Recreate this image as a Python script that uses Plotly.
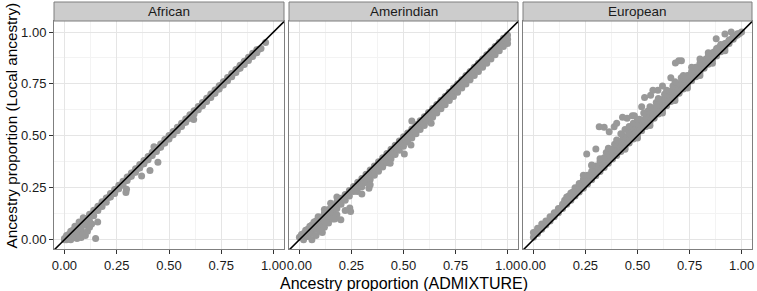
import plotly.graph_objects as go

# ---------------- data ----------------
panels = ["African", "Amerindian", "European"]
tick_vals = [0.0, 0.25, 0.5, 0.75, 1.0]
tick_text = ["0.00", "0.25", "0.50", "0.75", "1.00"]
minor_vals = [0.125, 0.375, 0.625, 0.875]
identity_line = [-0.1, 1.1]  # y = x reference line

african_points = [
    # main band, near the line
    (0.00, 0.005), (0.02, 0.025), (0.04, 0.045), (0.06, 0.062), (0.08, 0.083), (0.10, 0.102),
    (0.12, 0.122), (0.14, 0.142), (0.16, 0.161), (0.18, 0.182), (0.20, 0.201), (0.22, 0.222),
    (0.24, 0.241), (0.26, 0.262), (0.28, 0.281), (0.30, 0.302), (0.32, 0.321), (0.34, 0.341),
    (0.36, 0.362), (0.38, 0.381), (0.40, 0.401), (0.42, 0.421), (0.44, 0.441), (0.46, 0.461),
    (0.48, 0.482), (0.50, 0.501), (0.52, 0.521), (0.54, 0.541), (0.56, 0.561), (0.58, 0.581),
    (0.60, 0.601), (0.62, 0.621), (0.64, 0.641), (0.66, 0.661), (0.68, 0.681), (0.70, 0.701),
    (0.72, 0.721), (0.74, 0.741), (0.76, 0.761), (0.78, 0.781), (0.80, 0.800), (0.82, 0.820),
    (0.84, 0.840), (0.86, 0.859), (0.88, 0.878), (0.90, 0.898), (0.92, 0.915),
    # middle row
    (0.01, 0.004), (0.03, 0.024), (0.05, 0.044), (0.07, 0.063), (0.09, 0.083), (0.11, 0.103),
    (0.13, 0.123), (0.15, 0.143), (0.17, 0.163), (0.19, 0.183), (0.21, 0.203), (0.23, 0.223),
    (0.25, 0.243), (0.27, 0.263), (0.29, 0.283), (0.31, 0.303), (0.33, 0.323), (0.35, 0.343),
    (0.37, 0.363), (0.39, 0.383), (0.41, 0.403), (0.43, 0.423), (0.45, 0.443), (0.47, 0.463),
    (0.49, 0.483), (0.51, 0.503), (0.53, 0.523), (0.55, 0.543), (0.57, 0.563), (0.59, 0.583),
    (0.61, 0.603), (0.63, 0.623), (0.65, 0.643), (0.67, 0.663), (0.69, 0.683), (0.71, 0.703),
    (0.73, 0.723), (0.75, 0.743), (0.77, 0.763), (0.79, 0.783), (0.81, 0.803), (0.83, 0.823),
    (0.85, 0.842), (0.87, 0.861), (0.89, 0.880), (0.91, 0.899), (0.93, 0.917),
    # main band, just below the line
    (0.02, 0.005), (0.04, 0.020), (0.06, 0.035), (0.08, 0.050), (0.10, 0.070), (0.12, 0.090),
    (0.14, 0.115), (0.16, 0.140), (0.18, 0.160), (0.20, 0.180), (0.22, 0.205), (0.24, 0.222),
    (0.26, 0.245), (0.28, 0.262), (0.30, 0.285), (0.32, 0.305), (0.34, 0.325), (0.36, 0.345),
    (0.38, 0.365), (0.40, 0.385), (0.42, 0.405), (0.44, 0.425), (0.46, 0.445), (0.48, 0.465),
    (0.50, 0.485), (0.52, 0.505), (0.54, 0.525), (0.56, 0.545), (0.58, 0.565), (0.60, 0.585),
    (0.62, 0.605), (0.64, 0.625), (0.66, 0.645), (0.68, 0.665), (0.70, 0.685), (0.72, 0.705),
    (0.74, 0.725), (0.76, 0.745), (0.78, 0.765), (0.80, 0.785), (0.82, 0.805), (0.84, 0.825),
    (0.86, 0.843), (0.88, 0.863), (0.90, 0.882), (0.92, 0.900), (0.94, 0.920),
    # low-ancestry cloud
    (0.00, 0.000), (0.01, 0.000), (0.03, 0.000), (0.06, 0.005), (0.08, 0.010), (0.10, 0.020),
    (0.05, 0.010), (0.07, 0.015), (0.09, 0.030), (0.11, 0.040), (0.12, 0.060), (0.13, 0.075),
    (0.01, 0.020), (0.03, 0.040), (0.05, 0.065), (0.07, 0.085), (0.09, 0.105),
    # outliers
    (0.149, 0.005), (0.159, 0.085), (0.447, 0.373), (0.409, 0.333), (0.369, 0.307),
    (0.294, 0.227), (0.297, 0.243), (0.618, 0.579), (0.962, 0.949), (0.428, 0.448),
]

amerindian_points = [
    # near the line
    (0.00, 0.012), (0.02, 0.030), (0.04, 0.050), (0.06, 0.070), (0.08, 0.090), (0.10, 0.108),
    (0.12, 0.127), (0.14, 0.145), (0.16, 0.163), (0.18, 0.182), (0.20, 0.200), (0.22, 0.218),
    (0.24, 0.237), (0.26, 0.256), (0.28, 0.276), (0.30, 0.295), (0.32, 0.315), (0.34, 0.335),
    (0.36, 0.355), (0.38, 0.375), (0.40, 0.395), (0.42, 0.415), (0.44, 0.435), (0.46, 0.455),
    (0.48, 0.475), (0.50, 0.495), (0.52, 0.514), (0.54, 0.533), (0.56, 0.553), (0.58, 0.573),
    (0.60, 0.592), (0.62, 0.612), (0.64, 0.632), (0.66, 0.651), (0.68, 0.671), (0.70, 0.690),
    (0.72, 0.710), (0.74, 0.730), (0.76, 0.750), (0.78, 0.770), (0.80, 0.790), (0.82, 0.810),
    (0.84, 0.830), (0.86, 0.850), (0.88, 0.870), (0.90, 0.890), (0.92, 0.910), (0.94, 0.930),
    (0.96, 0.950), (0.98, 0.970), (1.00, 0.985),
    # middle row
    (0.01, 0.010), (0.03, 0.028), (0.05, 0.045), (0.07, 0.062), (0.09, 0.080), (0.11, 0.097),
    (0.13, 0.115), (0.15, 0.135), (0.17, 0.155), (0.19, 0.175), (0.21, 0.195), (0.23, 0.215),
    (0.25, 0.235), (0.27, 0.255), (0.29, 0.275), (0.31, 0.295), (0.33, 0.315), (0.35, 0.335),
    (0.37, 0.355), (0.39, 0.375), (0.41, 0.395), (0.43, 0.415), (0.45, 0.435), (0.47, 0.455),
    (0.49, 0.475), (0.51, 0.495), (0.53, 0.515), (0.55, 0.535), (0.57, 0.555), (0.59, 0.575),
    (0.61, 0.594), (0.63, 0.614), (0.65, 0.634), (0.67, 0.654), (0.69, 0.674), (0.71, 0.694),
    (0.73, 0.714), (0.75, 0.734), (0.77, 0.754), (0.79, 0.774), (0.81, 0.794), (0.83, 0.814),
    (0.85, 0.834), (0.87, 0.854), (0.89, 0.874), (0.91, 0.894), (0.93, 0.914), (0.95, 0.934),
    (0.97, 0.954), (0.99, 0.972),
    # second row below
    (0.02, 0.000), (0.04, 0.015), (0.06, 0.030), (0.08, 0.050), (0.10, 0.070), (0.12, 0.090),
    (0.14, 0.110), (0.16, 0.130), (0.18, 0.150), (0.20, 0.170), (0.22, 0.190), (0.24, 0.210),
    (0.26, 0.232), (0.28, 0.250), (0.30, 0.272), (0.32, 0.292), (0.34, 0.312), (0.36, 0.332),
    (0.38, 0.352), (0.40, 0.372), (0.42, 0.392), (0.44, 0.412), (0.46, 0.432), (0.48, 0.452),
    (0.50, 0.472), (0.52, 0.492), (0.54, 0.512), (0.56, 0.532), (0.58, 0.552), (0.60, 0.572),
    (0.62, 0.592), (0.64, 0.610), (0.66, 0.630), (0.68, 0.650), (0.70, 0.670), (0.72, 0.690),
    (0.74, 0.710), (0.76, 0.730), (0.78, 0.750), (0.80, 0.770), (0.82, 0.790), (0.84, 0.810),
    (0.86, 0.830), (0.88, 0.850), (0.90, 0.870), (0.92, 0.890), (0.94, 0.910), (0.96, 0.930),
    (0.98, 0.950), (1.00, 0.965),
    # between second and third rows
    (0.31, 0.275), (0.33, 0.295), (0.35, 0.315), (0.37, 0.335), (0.39, 0.355), (0.41, 0.375),
    (0.43, 0.395), (0.45, 0.415), (0.47, 0.435), (0.49, 0.455), (0.51, 0.475), (0.53, 0.495),
    (0.55, 0.515), (0.57, 0.535), (0.59, 0.555), (0.61, 0.575), (0.63, 0.595), (0.65, 0.615),
    (0.67, 0.635), (0.69, 0.655), (0.71, 0.675), (0.73, 0.695), (0.75, 0.715), (0.77, 0.735),
    (0.79, 0.755), (0.81, 0.775), (0.83, 0.795), (0.85, 0.815), (0.87, 0.835), (0.89, 0.855),
    (0.91, 0.875), (0.93, 0.895), (0.95, 0.915), (0.97, 0.935), (0.99, 0.955),
    # third row below
    (0.30, 0.255), (0.32, 0.275), (0.34, 0.290), (0.36, 0.310), (0.38, 0.330), (0.40, 0.350),
    (0.42, 0.370), (0.44, 0.390), (0.46, 0.410), (0.48, 0.430), (0.50, 0.450), (0.52, 0.470),
    (0.54, 0.490), (0.56, 0.510), (0.58, 0.530), (0.60, 0.550), (0.62, 0.570), (0.64, 0.590),
    (0.66, 0.610), (0.68, 0.630), (0.70, 0.650), (0.72, 0.670), (0.74, 0.690), (0.76, 0.710),
    (0.78, 0.730), (0.80, 0.750), (0.82, 0.770), (0.84, 0.790), (0.86, 0.810), (0.88, 0.830),
    (0.90, 0.850), (0.92, 0.870), (0.94, 0.890), (0.96, 0.910), (0.98, 0.930), (1.00, 0.945),
    # low-ancestry cloud
    (0.06, 0.000), (0.08, 0.020), (0.10, 0.040), (0.12, 0.060), (0.14, 0.080), (0.16, 0.100),
    (0.18, 0.120), (0.01, 0.025), (0.03, 0.045), (0.05, 0.065), (0.07, 0.085), (0.09, 0.110),
    (0.12, 0.145), (0.15, 0.175), (0.18, 0.205),
    # outliers
    (0.110, 0.035), (0.199, 0.096), (0.242, 0.152), (0.246, 0.136), (0.278, 0.232),
    (0.334, 0.248), (0.340, 0.264), (0.436, 0.368), (0.504, 0.413), (0.536, 0.456),
    (0.633, 0.560), (0.540, 0.572), (0.220, 0.140), (0.300, 0.220), (0.170, 0.100),
]

european_points = [
    # near the line
    (0.00, 0.012), (0.02, 0.030), (0.04, 0.050), (0.06, 0.070), (0.08, 0.090), (0.10, 0.110),
    (0.12, 0.130), (0.14, 0.150), (0.16, 0.170), (0.18, 0.190), (0.20, 0.210), (0.22, 0.230),
    (0.24, 0.248), (0.26, 0.268), (0.28, 0.288), (0.30, 0.308), (0.32, 0.328), (0.34, 0.348),
    (0.36, 0.368), (0.38, 0.388), (0.40, 0.405), (0.42, 0.425), (0.44, 0.445), (0.46, 0.465),
    (0.48, 0.485), (0.50, 0.505), (0.52, 0.525), (0.54, 0.545), (0.56, 0.565), (0.58, 0.585),
    (0.60, 0.605), (0.62, 0.625), (0.64, 0.645), (0.66, 0.665), (0.68, 0.685), (0.70, 0.705),
    (0.72, 0.725), (0.74, 0.745), (0.76, 0.765), (0.78, 0.785), (0.80, 0.805), (0.82, 0.825),
    (0.84, 0.845), (0.86, 0.865), (0.88, 0.885), (0.90, 0.905), (0.92, 0.925), (0.94, 0.945),
    (0.96, 0.965), (0.98, 0.985), (1.00, 1.000),
    # middle row
    (0.01, 0.030), (0.03, 0.050), (0.05, 0.070), (0.07, 0.090), (0.09, 0.110), (0.11, 0.130),
    (0.13, 0.150), (0.15, 0.170), (0.17, 0.190), (0.19, 0.210), (0.21, 0.230), (0.23, 0.250),
    (0.25, 0.270), (0.27, 0.290), (0.29, 0.310), (0.31, 0.330), (0.33, 0.350), (0.35, 0.370),
    (0.37, 0.390), (0.39, 0.410), (0.41, 0.430), (0.43, 0.450), (0.45, 0.470), (0.47, 0.490),
    (0.49, 0.510), (0.51, 0.530), (0.53, 0.550), (0.55, 0.570), (0.57, 0.590), (0.59, 0.610),
    (0.61, 0.630), (0.63, 0.650), (0.65, 0.670), (0.67, 0.690), (0.69, 0.710), (0.71, 0.730),
    (0.73, 0.750), (0.75, 0.770), (0.77, 0.790), (0.79, 0.810), (0.81, 0.830), (0.83, 0.850),
    (0.85, 0.870), (0.87, 0.890), (0.89, 0.910), (0.91, 0.930), (0.93, 0.948), (0.95, 0.965),
    (0.97, 0.980), (0.99, 0.993),
    # second row above
    (0.00, 0.035), (0.02, 0.055), (0.04, 0.075), (0.06, 0.090), (0.08, 0.110), (0.10, 0.130),
    (0.12, 0.150), (0.14, 0.170), (0.16, 0.190), (0.18, 0.210), (0.20, 0.230), (0.22, 0.250),
    (0.24, 0.270), (0.26, 0.290), (0.28, 0.310), (0.30, 0.332), (0.32, 0.352), (0.34, 0.372),
    (0.36, 0.392), (0.38, 0.412), (0.40, 0.432), (0.42, 0.452), (0.44, 0.472), (0.46, 0.492),
    (0.48, 0.512), (0.50, 0.532), (0.52, 0.552), (0.54, 0.572), (0.56, 0.592), (0.58, 0.612),
    (0.60, 0.632), (0.62, 0.652), (0.64, 0.672), (0.66, 0.692), (0.68, 0.712), (0.70, 0.732),
    (0.72, 0.752), (0.74, 0.772), (0.76, 0.790), (0.78, 0.810), (0.80, 0.830), (0.82, 0.850),
    (0.84, 0.870), (0.86, 0.890), (0.88, 0.910), (0.90, 0.930), (0.92, 0.945), (0.94, 0.962),
    (0.96, 0.978), (0.98, 0.992),
    # between second and third rows
    (0.15, 0.190), (0.17, 0.210), (0.19, 0.230), (0.21, 0.250), (0.23, 0.270), (0.25, 0.290),
    (0.27, 0.310), (0.29, 0.330), (0.31, 0.350), (0.33, 0.370), (0.35, 0.390), (0.37, 0.410),
    (0.39, 0.430), (0.41, 0.450), (0.43, 0.470), (0.45, 0.490), (0.47, 0.510), (0.49, 0.530),
    (0.51, 0.550), (0.53, 0.570), (0.55, 0.590), (0.57, 0.610), (0.59, 0.630), (0.61, 0.650),
    (0.63, 0.670), (0.65, 0.690), (0.67, 0.710), (0.69, 0.730), (0.71, 0.750), (0.73, 0.770),
    (0.75, 0.790), (0.77, 0.810), (0.79, 0.830), (0.81, 0.850), (0.83, 0.870), (0.85, 0.885),
    (0.87, 0.905), (0.89, 0.925),
    # third row above
    (0.16, 0.205), (0.18, 0.225), (0.20, 0.250), (0.22, 0.270), (0.24, 0.290), (0.26, 0.310),
    (0.28, 0.330), (0.30, 0.355), (0.32, 0.375), (0.34, 0.395), (0.36, 0.415), (0.38, 0.435),
    (0.40, 0.455), (0.42, 0.475), (0.44, 0.495), (0.46, 0.515), (0.48, 0.535), (0.50, 0.555),
    (0.52, 0.575), (0.54, 0.595), (0.56, 0.615), (0.58, 0.635), (0.60, 0.655), (0.62, 0.675),
    (0.64, 0.695), (0.66, 0.715), (0.68, 0.735), (0.70, 0.752), (0.72, 0.772), (0.74, 0.790),
    (0.76, 0.810), (0.78, 0.830), (0.80, 0.850), (0.82, 0.865), (0.84, 0.885), (0.86, 0.900),
    (0.88, 0.920), (0.90, 0.940),
    # upper scatter
    (0.35, 0.420), (0.39, 0.460), (0.43, 0.500), (0.47, 0.540), (0.51, 0.580), (0.55, 0.620),
    (0.59, 0.660), (0.63, 0.700), (0.67, 0.740), (0.71, 0.780),
    (0.36, 0.440), (0.40, 0.480), (0.42, 0.510), (0.44, 0.530), (0.46, 0.545), (0.48, 0.560),
    (0.50, 0.580), (0.53, 0.610), (0.56, 0.640), (0.60, 0.680), (0.64, 0.720), (0.68, 0.760),
    (0.72, 0.790), (0.76, 0.830), (0.80, 0.870), (0.84, 0.900), (0.28, 0.360), (0.32, 0.390),
    (0.24, 0.310),
    # a few just below the line
    (0.50, 0.490), (0.56, 0.550), (0.62, 0.610), (0.68, 0.670), (0.74, 0.730), (0.80, 0.790),
    (0.86, 0.850), (0.92, 0.910), (0.44, 0.435),
    # outliers
    (0.256, 0.413), (0.316, 0.544), (0.340, 0.541), (0.364, 0.520), (0.388, 0.544),
    (0.428, 0.589), (0.475, 0.597), (0.485, 0.597), (0.534, 0.685), (0.563, 0.696),
    (0.574, 0.720), (0.598, 0.720), (0.682, 0.851), (0.698, 0.861), (0.711, 0.861),
    (0.878, 0.968), (0.300, 0.437), (0.280, 0.357), (0.400, 0.560), (0.450, 0.585),
    (0.520, 0.640), (0.620, 0.740), (0.660, 0.780), (0.920, 0.990), (0.950, 1.000),
]

panel_points = [african_points, amerindian_points, european_points]

# ---------------- styling / layout ----------------
W, H = 757, 291
ML, MR, MT, MB = 54, 5, 2, 42
plot_w = W - ML - MR
plot_h = H - MT - MB
panel_px = [(54, 284), (289, 518), (523, 752)]
domains = [[(a - ML) / plot_w, (b - ML) / plot_w] for a, b in panel_px]
y_top = 1 - 19 / plot_h  # strip height 19 px

POINT = "#999999"
GRID = "#e5e5e5"
MINOR = "#f3f3f3"
BORDER = "#7f7f7f"
FONT = "Liberation Sans, Arial, sans-serif"

fig = go.Figure()
for i, pts in enumerate(panel_points):
    xa = "x" if i == 0 else f"x{i+1}"
    ya = "y" if i == 0 else f"y{i+1}"
    fig.add_trace(go.Scatter(
        x=[p[0] for p in pts], y=[p[1] for p in pts], mode="markers",
        marker=dict(color=POINT, size=7, line=dict(width=0)),
        xaxis=xa, yaxis=ya, showlegend=False, hoverinfo="skip", cliponaxis=True))
    fig.add_trace(go.Scatter(
        x=identity_line, y=identity_line, mode="lines",
        line=dict(color="black", width=1.6),
        xaxis=xa, yaxis=ya, showlegend=False, hoverinfo="skip"))

axis_common = dict(
    range=[-0.05, 1.05], tickvals=tick_vals, ticktext=tick_text,
    showgrid=True, gridcolor=GRID, gridwidth=1,
    minor=dict(tickvals=minor_vals, showgrid=True, gridcolor=MINOR, gridwidth=1, ticklen=0),
    zeroline=False, showline=True, mirror=True, linecolor=BORDER, linewidth=1,
    ticks="outside", ticklen=4, tickwidth=1, tickcolor="#333333",
    tickfont=dict(family=FONT, size=13, color="#1a1a1a"),
)

layout = dict(
    width=W, height=H,
    margin=dict(l=ML, r=MR, t=MT, b=MB),
    paper_bgcolor="white", plot_bgcolor="white",
    font=dict(family=FONT),
    showlegend=False,
)
for i in range(3):
    sx = "" if i == 0 else str(i + 1)
    xa = dict(axis_common, domain=domains[i], anchor="y" + sx)
    ya = dict(axis_common, domain=[0, y_top], anchor="x" + sx, range=[-0.045, 1.053])
    if i > 0:
        ya["showticklabels"] = False
        ya["ticks"] = ""
        ya["matches"] = "y"
    layout["xaxis" + sx] = xa
    layout["yaxis" + sx] = ya
fig.update_layout(**layout)

# strips
for i, name in enumerate(panels):
    fig.add_shape(type="rect", xref="paper", yref="paper",
                  x0=domains[i][0], x1=domains[i][1], y0=y_top, y1=1,
                  fillcolor="#cccccc", line=dict(color=BORDER, width=1), layer="above")
    fig.add_annotation(text=name, xref="paper", yref="paper",
                       x=(domains[i][0] + domains[i][1]) / 2, y=(y_top + 1) / 2,
                       showarrow=False, xanchor="center", yanchor="middle",
                       font=dict(family=FONT, size=13.5, color="#1a1a1a"))

# axis titles
fig.add_annotation(text="Ancestry proportion (ADMIXTURE)", xref="paper", yref="paper",
                   x=(domains[1][0] + domains[1][1]) / 2, y=-(283 - (MT + plot_h)) / plot_h,
                   showarrow=False, xanchor="center", yanchor="middle",
                   font=dict(family=FONT, size=16, color="black"))
fig.add_annotation(text="Ancestry proportion (Local ancestry)", xref="paper", yref="paper",
                   x=-(ML - 11) / plot_w, y=1 - (125.5 - MT) / plot_h, textangle=-90,
                   showarrow=False, xanchor="center", yanchor="middle",
                   font=dict(family=FONT, size=15.3, color="black"))

fig.write_html("out.html", config={"displayModeBar": False},
               post_script="document.body.style.margin='0px';document.body.style.overflow='hidden';")
